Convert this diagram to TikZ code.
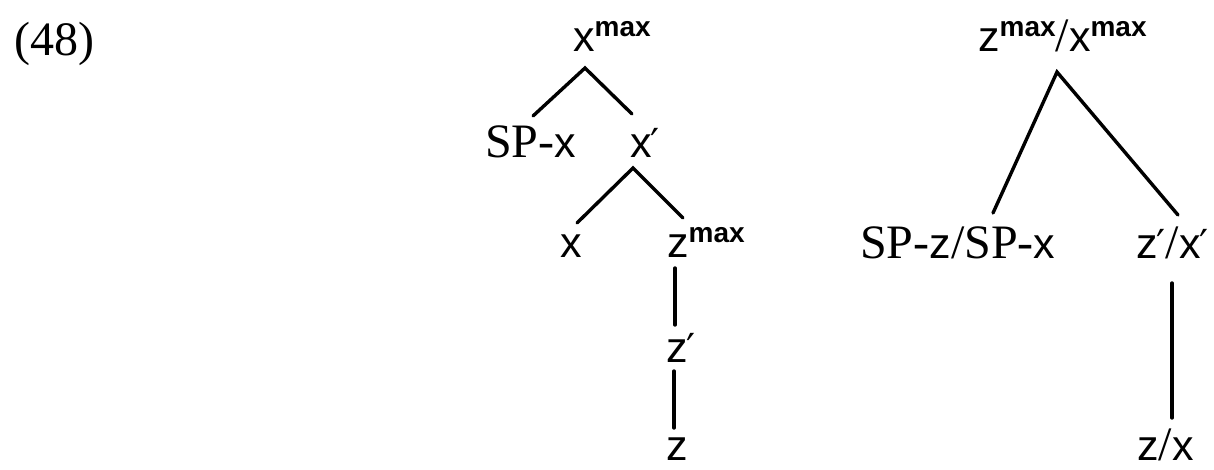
\documentclass[tikz,border=0pt]{standalone}
\usepackage{fontspec}
\setmainfont{Liberation Serif}
\newfontfamily\lsans{Liberation Sans}
\newfontfamily\primefont{DejaVu Sans}
\newcommand\sv[1]{{\fontsize{43}{45}\selectfont\lsans #1}}
\newcommand\mmax{\raisebox{15pt}{\fontsize{28}{28}\selectfont\lsans\bfseries max}}
\newcommand\pr{{\kern-1pt\fontsize{40}{40}\selectfont\primefont ′}}
\begin{document}
\begin{tikzpicture}[x=1pt,y=-1pt,
  lbl/.style={anchor=base west,inner sep=0pt,font=\fontsize{48}{50}\selectfont},
  branch/.style={line width=3.4pt,line cap=round}]
\useasboundingbox (0,0) rectangle (1214,469);
% labels
\node[lbl] (n48) at (14,55) {(48)};
% left tree
\node[lbl] (xmax) at (573,51) {\sv{x}\mmax};
\node[lbl] (spx) at (485,157) {SP-\sv{x}};
\node[lbl] (xbar) at (630,157) {\sv{x}\pr};
\node[lbl] (x) at (560,257) {\sv{x}};
\node[lbl] (zmax) at (667,257) {\sv{z}\mmax};
\node[lbl] (zbar) at (666,362) {\sv{z}\pr};
\node[lbl] (z) at (666,460) {\sv{z}};
% right tree
\node[lbl] (zxmax) at (978,51) {\sv{z}\mmax/\sv{x}\mmax};
\node[lbl] (spzx) at (860,258) {SP-\sv{z}/SP-\sv{x}};
\node[lbl] (zxbar) at (1136,258) {\sv{z}\pr/\sv{x}\pr};
\node[lbl] (zx) at (1137,460) {\sv{z}/\sv{x}};
% branch end points
\coordinate (xmaxB) at (585,68);
\coordinate (spxT) at (533,116);
\coordinate (xbarT) at (632,114);
\coordinate (xbarB) at (633,168);
\coordinate (xT) at (577,223);
\coordinate (zmaxT) at (683,218);
\coordinate (zmaxB) at (675,268);
\coordinate (zbarT) at (675,325);
\coordinate (zbarB) at (674,371);
\coordinate (zT) at (674,428);
\coordinate (zxmaxB) at (1057,72);
\coordinate (spzxT) at (993,213);
\coordinate (zxbarT) at (1178,215);
\coordinate (zxbarB) at (1172,283);
\coordinate (zxT) at (1172,418);
% branches
\draw[branch] (spxT) -- (xmaxB) -- (xbarT);
\draw[branch] (xT) -- (xbarB) -- (zmaxT);
\draw[branch] (zmaxB) -- (zbarT);
\draw[branch] (zbarB) -- (zT);
\draw[branch] (spzxT) -- (zxmaxB) -- (zxbarT);
\draw[branch] (zxbarB) -- (zxT);
\end{tikzpicture}
\end{document}
